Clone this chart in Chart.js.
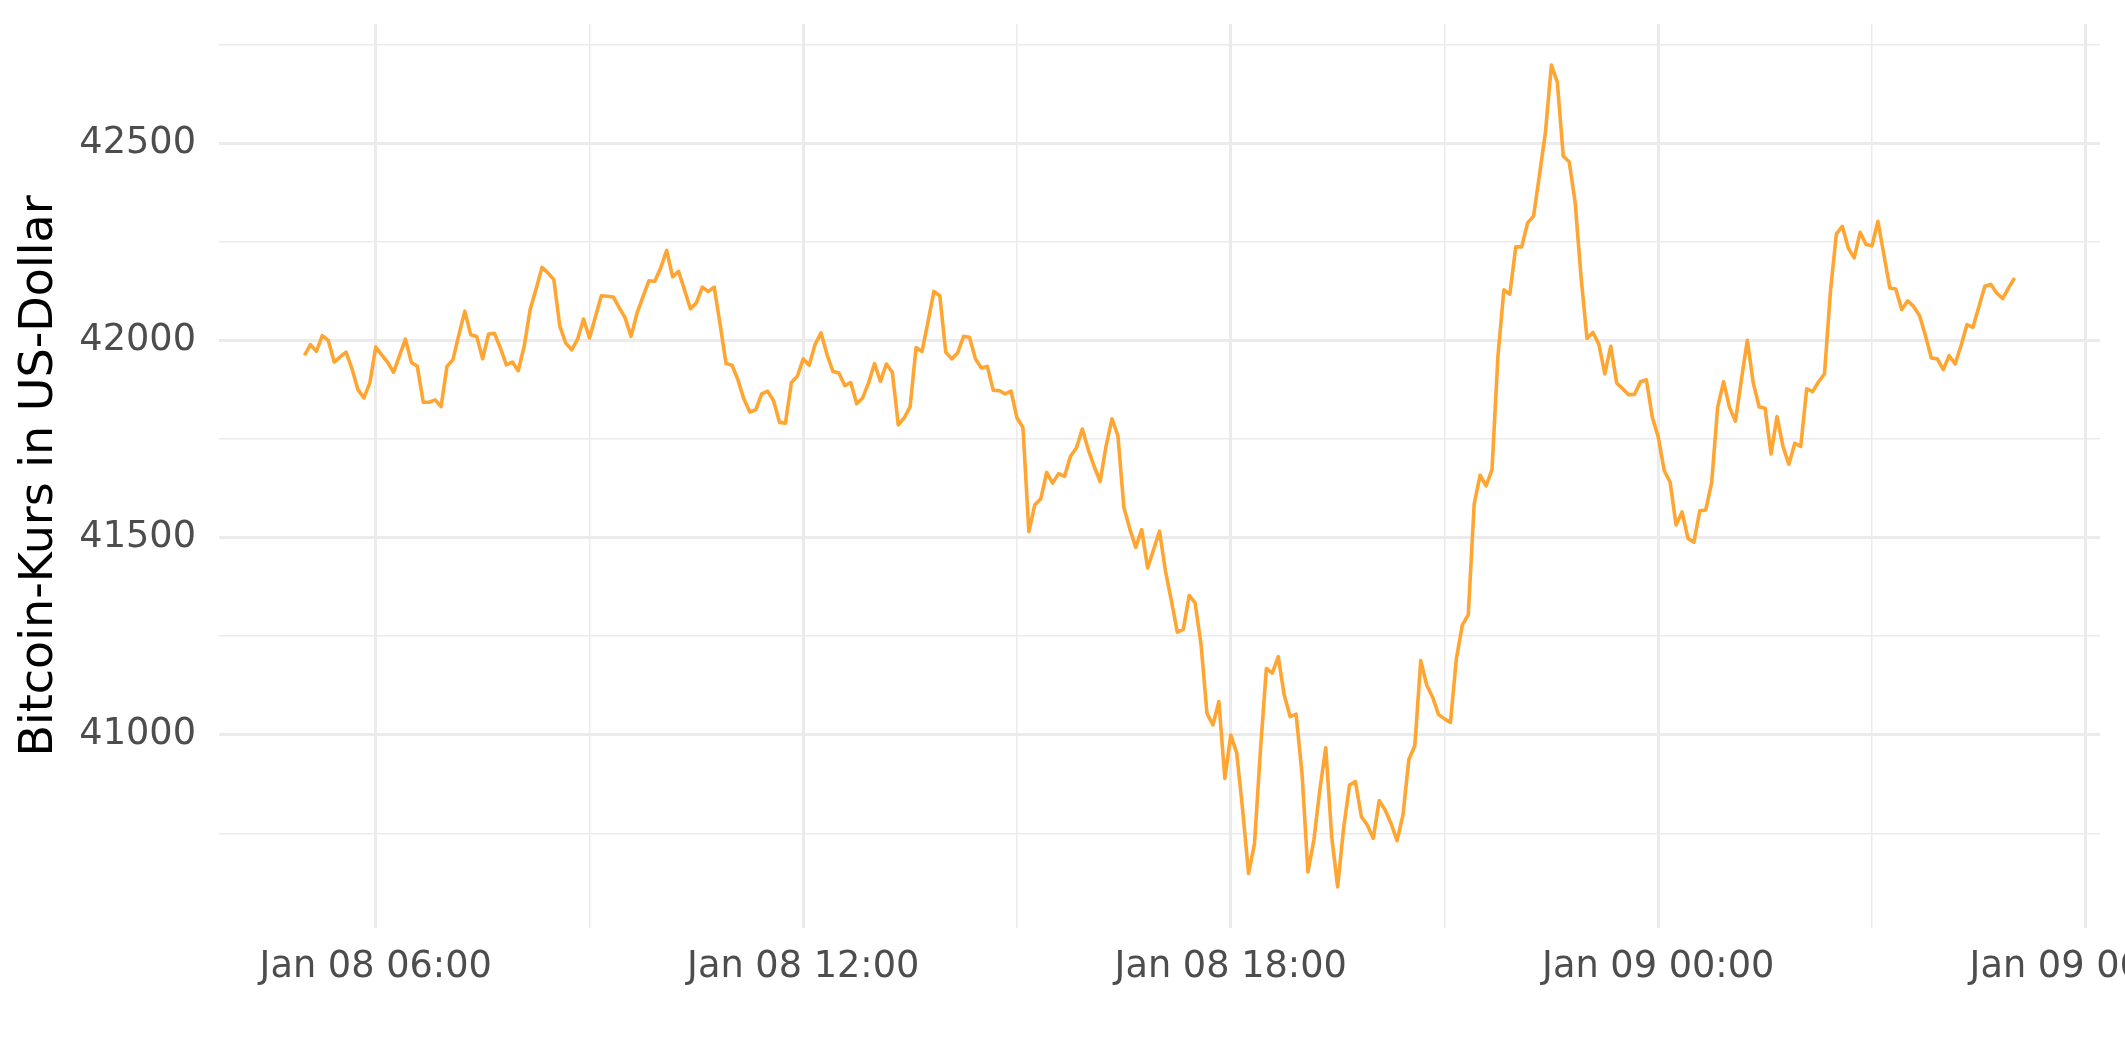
<!DOCTYPE html>
<html>
<head>
<meta charset="utf-8">
<title>Bitcoin-Kurs</title>
<script src="https://cdn.jsdelivr.net/npm/chart.js@4.4.1/dist/chart.umd.min.js"></script>
<style>
  html, body { margin: 0; padding: 0; background: #fff; overflow: hidden; }
  #wrap { width: 2125px; height: 1062px; }
</style>
</head>
<body>
<div id="wrap"><canvas id="btcChart" width="2125" height="1062"></canvas></div>
<script>
// 5-minute prices in USD, Jan 08 05:00 to Jan 09 05:00 (one row per hour)
const startHour = 5;      // hours after Jan 08 00:00
const stepMinutes = 5;
const prices = [
    41962, 41989, 41972, 42012, 42000, 41945, 41958, 41970, 41928, 41875, 41854, 41892,
    41983, 41963, 41944, 41919, 41961, 42003, 41944, 41934, 41843, 41843, 41849, 41832,
    41934, 41951, 42014, 42074, 42014, 42010, 41953, 42016, 42018, 41980, 41938, 41945,
    41923, 41985, 42078, 42130, 42185, 42171, 42154, 42036, 41993, 41976, 42003, 42054,
    42006, 42060, 42113, 42112, 42110, 42083, 42057, 42010, 42069, 42110, 42151, 42150,
    42184, 42228, 42161, 42175, 42128, 42080, 42095, 42135, 42124, 42135, 42040, 41941,
    41937, 41900, 41851, 41818, 41824, 41864, 41871, 41847, 41792, 41790, 41893, 41909,
    41953, 41937, 41990, 42019, 41964, 41921, 41917, 41885, 41893, 41839, 41854, 41892,
    41941, 41896, 41940, 41919, 41786, 41803, 41832, 41982, 41972, 42046, 42124, 42113,
    41970, 41953, 41968, 42010, 42008, 41953, 41930, 41934, 41873, 41873, 41864, 41871,
    41803, 41779, 41515, 41583, 41598, 41665, 41638, 41662, 41655, 41706, 41727, 41775,
    41723, 41680, 41642, 41732, 41801, 41758, 41576, 41522, 41475, 41520, 41423, 41469,
    41516, 41415, 41340, 41260, 41267, 41353, 41334, 41228, 41054, 41025, 41084, 40889,
    40999, 40954, 40810, 40648, 40724, 40961, 41168, 41156, 41198, 41101, 41046, 41052,
    40902, 40652, 40733, 40860, 40967, 40741, 40614, 40762, 40872, 40881, 40792, 40771,
    40737, 40833, 40809, 40775, 40731, 40796, 40937, 40972, 41188, 41126, 41095, 41051,
    41040, 41031, 41193, 41278, 41304, 41585, 41658, 41631, 41672, 41960, 42128, 42117,
    42237, 42237, 42298, 42315, 42420, 42528, 42698, 42655, 42467, 42453, 42350, 42160,
    42005, 42020, 41990, 41915, 41985, 41892, 41877, 41862, 41863, 41895, 41900, 41805,
    41755, 41670, 41640, 41532, 41565, 41498, 41488, 41568, 41570, 41640, 41830, 41895,
    41830, 41795, 41900, 42000, 41892, 41831, 41828, 41712, 41807, 41731, 41686, 41739,
    41731, 41877, 41870, 41895, 41915, 42124, 42270, 42289, 42234, 42209, 42274, 42243,
    42240, 42302, 42217, 42133, 42130, 42078, 42100, 42086, 42063, 42012, 41955, 41953,
    41926, 41961, 41940, 41987, 42040, 42033, 42085, 42137, 42142, 42120, 42106, 42133,
    42158
];

const xTickHours = [6, 12, 18, 24, 30];
const xTickLabels = ['Jan 08 06:00', 'Jan 08 12:00', 'Jan 08 18:00', 'Jan 09 00:00', 'Jan 09 06:00'];
const yTickValues = [41000, 41500, 42000, 42500];

const points = prices.map((p, i) => ({ x: startHour + i * stepMinutes / 60, y: p }));

// same 5% padding ggplot puts around the data
function expandRange(lo, hi) {
    const pad = (hi - lo) * 0.05;
    return [lo - pad, hi + pad];
}
const [xMin, xMax] = expandRange(points[0].x, points[points.length - 1].x);
const [yMin, yMax] = expandRange(Math.min(...prices), Math.max(...prices));

// one gridline per half step between labels (ggplot minor breaks)
function gridTicks(step) {
    return scale => {
        const ticks = [];
        for (let v = Math.ceil(scale.min / step) * step; v <= scale.max; v += step) {
            ticks.push({ value: v });
        }
        scale.ticks = ticks;
    };
}

// labelled lines are the thick ones, the in-between ones thin
function gridWidth(labelled) {
    return ctx => (ctx.tick && labelled.includes(ctx.tick.value)) ? 3 : 1.5;
}

Chart.defaults.font.family = "'DejaVu Sans', 'Noto Sans', sans-serif";

new Chart(document.getElementById('btcChart'), {
    type: 'line',
    data: {
        datasets: [{
            data: points,
            borderColor: '#FFA532',
            borderWidth: 3.6,
            borderJoinStyle: 'round',
            pointRadius: 0,
            tension: 0,
            fill: false
        }]
    },
    options: {
        responsive: false,
        animation: false,
        devicePixelRatio: 1,
        layout: { padding: { top: 24, right: 25, bottom: 0, left: 0 } },
        plugins: {
            legend: { display: false },
            tooltip: { enabled: false }
        },
        scales: {
            x: {
                type: 'linear',
                min: xMin,
                max: xMax,
                border: { display: false },
                grid: { color: '#EBEBEB', lineWidth: gridWidth(xTickHours), drawTicks: false },
                afterBuildTicks: gridTicks(3),
                ticks: {
                    autoSkip: false,
                    maxRotation: 0,
                    padding: 17,
                    color: '#4D4D4D',
                    font: { size: 36.7 },
                    callback: v => {
                        const k = xTickHours.indexOf(v);
                        return k >= 0 ? xTickLabels[k] : '';
                    }
                },
                // let the last label run off the page like in the original
                afterFit: scale => {
                    scale.paddingLeft = 0;
                    scale.paddingRight = 0;
                    scale.height = 134;
                }
            },
            y: {
                type: 'linear',
                min: yMin,
                max: yMax,
                border: { display: false },
                grid: { color: '#EBEBEB', lineWidth: gridWidth(yTickValues), drawTicks: false },
                afterBuildTicks: gridTicks(250),
                ticks: {
                    autoSkip: false,
                    padding: 23,
                    color: '#4D4D4D',
                    font: { size: 36.7 },
                    callback: v => yTickValues.includes(v) ? String(v) : ''
                },
                title: {
                    display: true,
                    text: 'Bitcoin-Kurs in US-Dollar',
                    color: '#000000',
                    font: { size: 46 },
                    padding: { top: 12, bottom: 0 }
                },
                afterFit: scale => {
                    scale.paddingTop = 0;
                    scale.paddingBottom = 0;
                    scale.width = 219;
                }
            }
        }
    }
});
</script>
</body>
</html>
